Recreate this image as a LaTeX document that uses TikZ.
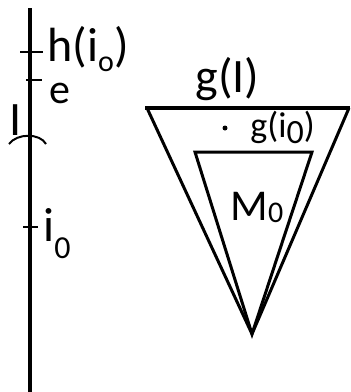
\documentclass[tikz,border=0pt]{standalone}
\usepackage{fontspec}
\setmainfont{Carlito}
\usepackage{tikz}
\usetikzlibrary{positioning}

\newcommand{\lowsub}[3]{\raisebox{-#1}{\fontsize{#2}{#2}\selectfont #3}}

\begin{document}
\begin{tikzpicture}[x=0.5pt,y=-0.5pt]
\useasboundingbox (0,0) rectangle (351,392);
\tikzset{lbl/.style={inner sep=0pt,anchor=base west,font=\fontsize{24}{28}\selectfont}}
% the line with its marks
\draw[line width=2pt] (30,8) -- (30,392);
\draw[line width=1pt] (20,52) -- (43,52);
\draw[line width=1pt] (26,80) -- (42,80);
\draw[line width=1pt] (23,227) -- (38,227);
\draw[line width=1pt] (9,144) .. controls (17,133) and (40,133) .. (46,144);
\node[lbl] (hio) at (47,61) {h(i\lowsub{5pt}{15}{o})};
\node[lbl,font=\fontsize{21}{25}\selectfont] (e) at (49,103) {e};
\node[lbl] (I) at (9,135) {I};
\node[lbl] (io) at (43,241) {i\lowsub{8.5pt}{16}{0}};
% the two cones
\coordinate (apex) at (252,334);
\coordinate (gl) at (147,108);
\coordinate (gr) at (349,108);
\coordinate (ml) at (195,152);
\coordinate (mr) at (312,152);
\draw[line width=1.5pt] (gl) -- (apex) -- (gr);
\draw[line width=2pt] (145,108) -- (350,108);
\draw[line width=1.5pt] (ml) -- (apex) -- (mr) -- cycle;
\node[lbl] (gI) at (195,92) {g(I)};
\fill (225,128) circle (2.5);
\node[lbl,font=\fontsize{18}{21}\selectfont] (gio) at (250,137) {g(i\lowsub{3pt}{17}{0})};
\node[lbl,font=\fontsize{22}{26}\selectfont] (M) at (230,220) {M\lowsub{1pt}{15}{0}};
\end{tikzpicture}
\end{document}
